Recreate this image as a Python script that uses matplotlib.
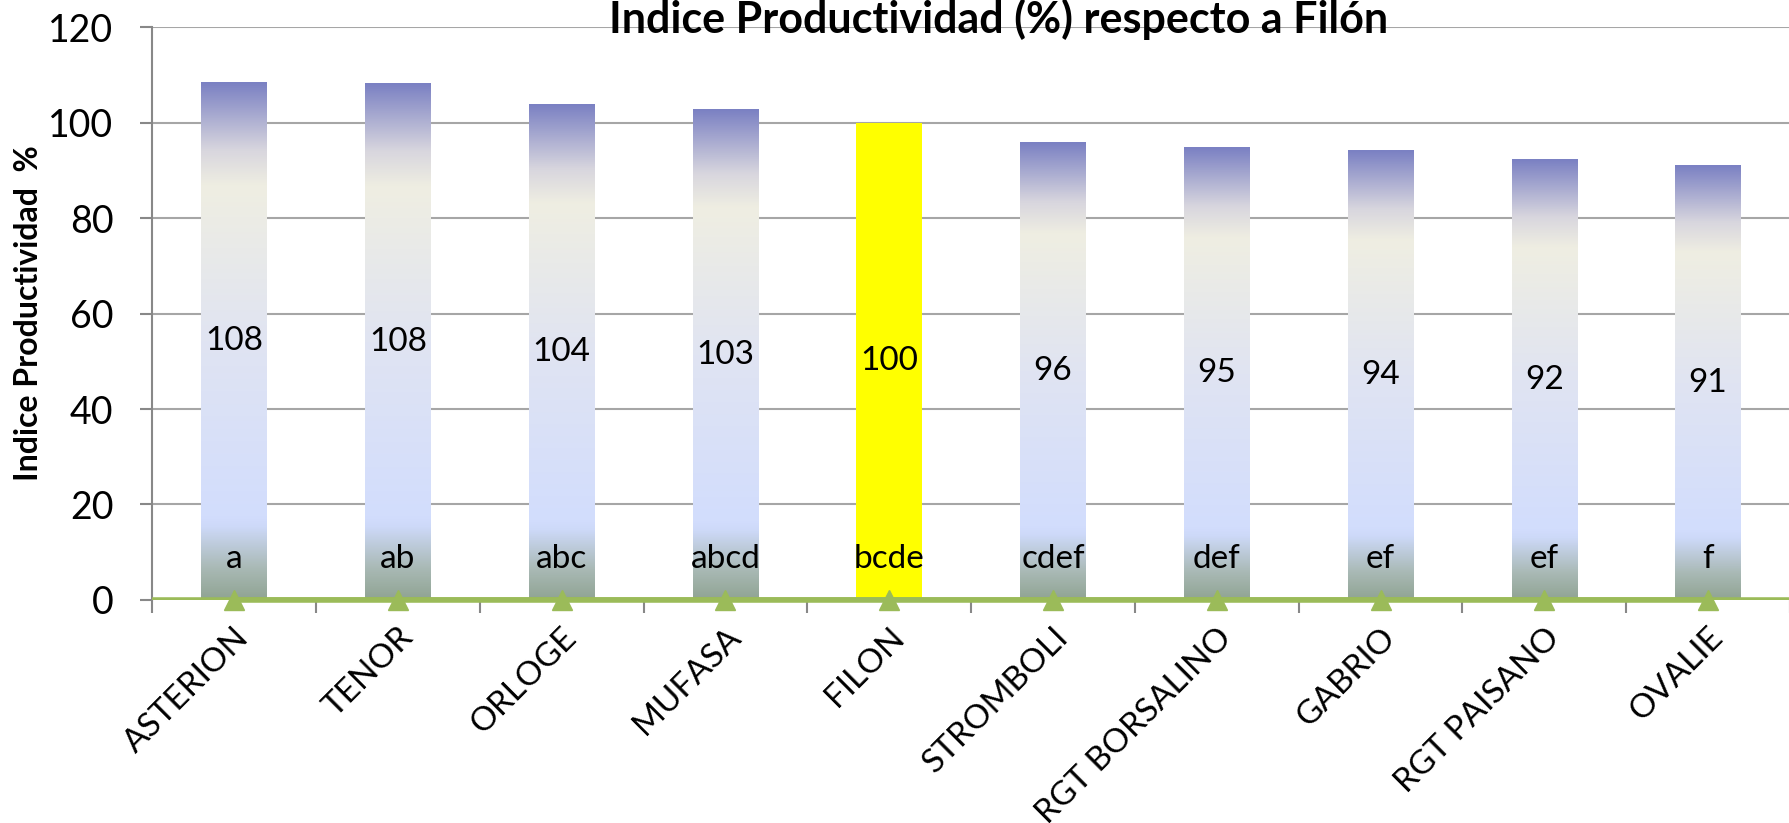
import numpy as np
import matplotlib
matplotlib.use('Agg')
from matplotlib import pyplot as plt
from matplotlib.colors import LinearSegmentedColormap

varieties = ["ASTERION", "TENOR", "ORLOGE", "MUFASA", "FILON", "STROMBOLI",
             "RGT BORSALINO", "GABRIO", "RGT PAISANO", "OVALIE"]
indice = [108.4, 108.2, 103.9, 102.8, 100.0, 95.8, 94.9, 94.2, 92.2, 91.1]
value_labels = ["108", "108", "104", "103", "100", "96", "95", "94", "92", "91"]
groups = ["a", "ab", "abc", "abcd", "bcde", "cdef", "def", "ef", "ef", "f"]
highlight = "FILON"

plt.rcParams['font.family'] = ['Lato', 'DejaVu Sans']

# Excel-like gradient fill, bottom -> top
grad = LinearSegmentedColormap.from_list("bar_grad", [
    (0.00, "#90a493"),
    (0.06, "#a9b9b5"),
    (0.14, "#cdd9f8"),
    (0.16, "#d2ddfd"),
    (0.50, "#e0e4f2"),
    (0.80, "#efeee2"),
    (0.87, "#d8d6de"),
    (1.00, "#7b81c3"),
])

fig = plt.figure(figsize=(17.9, 8.23), dpi=100)
ax = fig.add_axes([0.085, 0.271, 0.915, 0.696])

x = np.arange(len(varieties))
width = 0.4
ramp = np.linspace(0, 1, 256).reshape(-1, 1)

for i, (name, val) in enumerate(zip(varieties, indice)):
    if name == highlight:
        ax.bar(i, val, width=width, color="#ffff00", zorder=2)
    else:
        ax.imshow(ramp, cmap=grad, origin='lower', aspect='auto',
                  extent=(i - width / 2, i + width / 2, 0, val), zorder=2)
    ax.text(i, val / 2, value_labels[i], ha='center', va='center', fontsize=24, zorder=4)
    ax.text(i, 8.6, groups[i], ha='center', va='center', fontsize=24, zorder=4)

# baseline series with triangles
ax.axhline(0, color="#9bbb59", lw=4, zorder=3)
ax.plot(x, np.zeros(len(x)), color="#9bbb59", lw=4, marker='^', ms=15, zorder=3,
        clip_on=False)

ax.set_xlim(-0.5, len(varieties) - 0.5)
ax.set_ylim(0, 120)
ax.set_yticks(range(0, 121, 20))
ax.yaxis.grid(True, color="#a6a6a6", lw=1.5)
ax.set_axisbelow(True)

ax.set_xticks(x)
ax.set_xticklabels(varieties, rotation=45, ha='right', rotation_mode='anchor', fontsize=24)
ax.set_xticks(np.arange(-0.5, len(varieties)), minor=True)
ax.tick_params(axis='x', which='major', length=0, pad=16)
ax.tick_params(axis='x', which='minor', length=9, color="#888888", width=1.5)
ax.tick_params(axis='y', labelsize=27, length=9, color="#888888", width=1.5, pad=19)

for s in ['top', 'right', 'bottom']:
    ax.spines[s].set_visible(False)
ax.spines['left'].set_color("#888888")
ax.spines['left'].set_linewidth(1.5)

ax.set_ylabel("Indice Productividad  %", fontsize=23, fontweight='bold', labelpad=4)
fig.text(0.558, 0.960, "Indice Productividad (%) respecto a Filón", ha='center', va='baseline',
         fontsize=31, fontweight='bold')

fig.savefig("out.png", dpi=100)
plt.close(fig)
